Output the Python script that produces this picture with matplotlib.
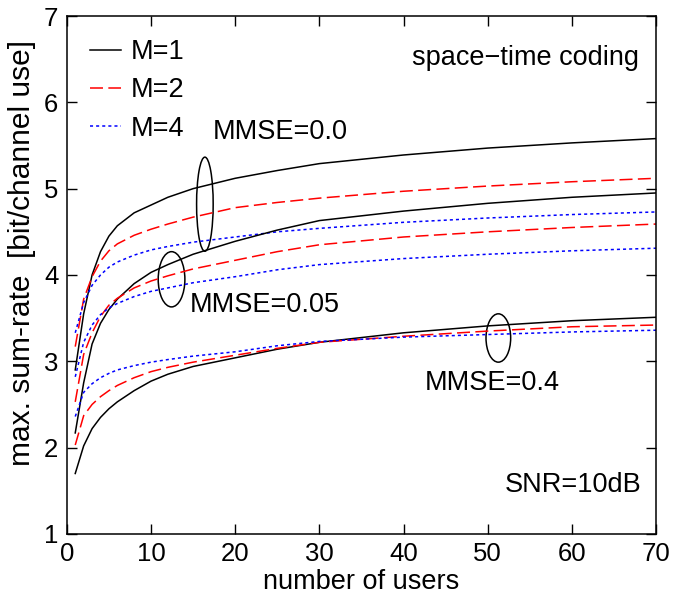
import numpy as np
import matplotlib.pyplot as plt
from matplotlib.patches import Ellipse

plt.rcParams['font.family'] = ['Liberation Sans', 'DejaVu Sans']

users = [1, 2, 3, 4, 5, 6, 8, 10, 12, 15, 20, 25, 30, 40, 50, 60, 70]

# MMSE = 0.0
rate_m1_e00 = [2.90, 3.55, 4.00, 4.27, 4.45, 4.57, 4.72, 4.81, 4.90, 5.00, 5.12, 5.21, 5.29, 5.39, 5.47, 5.53, 5.58]
rate_m2_e00 = [3.17, 3.72, 3.98, 4.16, 4.28, 4.36, 4.46, 4.53, 4.59, 4.67, 4.78, 4.84, 4.89, 4.97, 5.03, 5.08, 5.12]
rate_m4_e00 = [3.33, 3.68, 3.88, 4.00, 4.09, 4.15, 4.23, 4.29, 4.33, 4.38, 4.44, 4.50, 4.54, 4.61, 4.66, 4.70, 4.73]

# MMSE = 0.05
rate_m1_e05 = [2.17, 2.75, 3.20, 3.44, 3.60, 3.72, 3.90, 4.03, 4.12, 4.24, 4.39, 4.52, 4.63, 4.74, 4.83, 4.90, 4.95]
rate_m2_e05 = [2.53, 3.08, 3.33, 3.52, 3.65, 3.73, 3.85, 3.93, 3.99, 4.07, 4.17, 4.27, 4.35, 4.44, 4.50, 4.55, 4.59]
rate_m4_e05 = [2.82, 3.22, 3.42, 3.54, 3.62, 3.67, 3.75, 3.81, 3.85, 3.91, 3.98, 4.06, 4.12, 4.19, 4.24, 4.28, 4.31]

# MMSE = 0.4
rate_m1_e40 = [1.70, 2.02, 2.22, 2.35, 2.45, 2.53, 2.66, 2.77, 2.85, 2.94, 3.04, 3.14, 3.22, 3.33, 3.41, 3.47, 3.51]
rate_m2_e40 = [2.03, 2.37, 2.50, 2.59, 2.66, 2.72, 2.81, 2.88, 2.93, 2.99, 3.07, 3.15, 3.22, 3.29, 3.35, 3.40, 3.42]
rate_m4_e40 = [2.36, 2.64, 2.74, 2.81, 2.86, 2.90, 2.95, 2.99, 3.02, 3.06, 3.11, 3.18, 3.23, 3.28, 3.31, 3.34, 3.36]

fig = plt.figure(figsize=(6.75, 6.04), dpi=100)
ax = fig.add_axes([0.099, 0.116, 0.873, 0.8575])

m1_style = dict(color='black', linestyle='-', lw=1.1)
m2_style = dict(color='red', linestyle=(0, (8.5, 3.5)), lw=1.1)
m4_style = dict(color='blue', linestyle=(0, (2, 2)), lw=1.1)

ax.plot(users, rate_m1_e00, label='M=1', **m1_style)
ax.plot(users, rate_m2_e00, label='M=2', **m2_style)
ax.plot(users, rate_m4_e00, label='M=4', **m4_style)
ax.plot(users, rate_m1_e05, **m1_style)
ax.plot(users, rate_m2_e05, **m2_style)
ax.plot(users, rate_m4_e05, **m4_style)
ax.plot(users, rate_m1_e40, **m1_style)
ax.plot(users, rate_m2_e40, **m2_style)
ax.plot(users, rate_m4_e40, **m4_style)

# ellipses grouping the curves of one MMSE level
for (cx, cy, w, h) in [(16.4, 4.82, 1.97, 1.09), (12.44, 3.95, 3.17, 0.64), (51.26, 3.27, 2.93, 0.56)]:
    ax.add_patch(Ellipse((cx, cy), w, h, fill=False, edgecolor='black', lw=1.1))

fs = 19.5
ax.text(17.35, 5.66, 'MMSE=0.0', fontsize=fs, va='center', ha='left')
ax.text(14.6, 3.65, 'MMSE=0.05', fontsize=fs, va='center', ha='left')
ax.text(42.5, 2.75, 'MMSE=0.4', fontsize=fs, va='center', ha='left')
ax.text(68.2, 1.57, 'SNR=10dB', fontsize=fs, va='center', ha='right')
ax.text(68.0, 6.51, 'space\u2212time coding', fontsize=fs, va='center', ha='right')

ax.set_xlim(0, 70)
ax.set_ylim(1, 7)
ax.set_xticks(range(0, 71, 10))
ax.set_yticks(range(1, 8))
ax.tick_params(direction='in', length=7, width=1, top=True, right=True, labelsize=18.5, pad=6)
for sp in ax.spines.values():
    sp.set_linewidth(1.1)

ax.set_xlabel('number of users', fontsize=fs, labelpad=2)
ax.set_ylabel('max. sum-rate  [bit/channel use]', fontsize=21.5)
ax.yaxis.set_label_coords(-0.052, 0.543)

ax.legend(loc='upper left', bbox_to_anchor=(0.0, 1.0), frameon=False, fontsize=fs,
          handlelength=1.15, handletextpad=0.35, labelspacing=0.46, borderaxespad=0.45)

fig.savefig('out.png', dpi=100)
